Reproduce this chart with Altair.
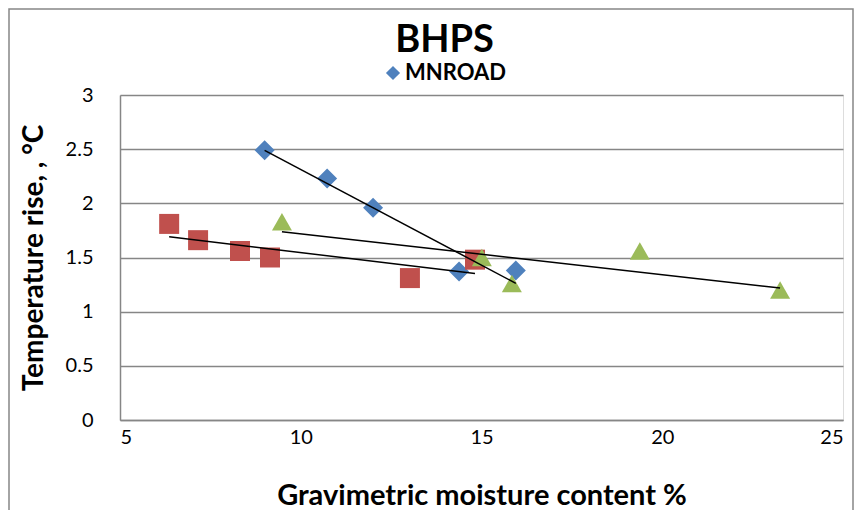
import altair as alt
import pandas as pd

# Data
mn_x = [9.0, 10.73, 12.0, 14.38, 15.95]
mn_y = [2.49, 2.23, 1.96, 1.37, 1.38]

s2_x = [6.36, 7.16, 8.32, 9.15, 13.02, 14.82]
s2_y = [1.81, 1.66, 1.56, 1.50, 1.31, 1.48]

s3_x = [9.48, 15.01, 15.84, 19.38, 23.26]
s3_y = [1.83, 1.50, 1.26, 1.56, 1.20]

series_names = ["MNROAD", "Series2", "Series3"]
colors = ["#4F81BD", "#C0504D", "#9BBB59"]
shapes = ["diamond", "square", "triangle-up"]

rows = []
for name, xs, ys in zip(series_names, [mn_x, s2_x, s3_x], [mn_y, s2_y, s3_y]):
    for x, y in zip(xs, ys):
        rows.append({"series": name, "moisture": x, "temp": y})
df = pd.DataFrame(rows)

FONT = "Lato"

xscale = alt.Scale(domain=[5, 25], nice=False, zero=False)
yscale = alt.Scale(domain=[0, 3], nice=False)

base = alt.Chart(df)

points = base.mark_point(filled=True, opacity=1, size=400).encode(
    x=alt.X("moisture:Q", scale=xscale,
            axis=alt.Axis(values=[5, 10, 15, 20, 25], grid=False, ticks=False,
                          domainColor="#868686", domainWidth=1.5,
                          labelFont=FONT, labelFontSize=20, labelColor="#000000",
                          labelPadding=7, title="Gravimetric moisture content %",
                          titleFont=FONT, titleFontSize=29, titleFontWeight="bold",
                          titleColor="#000000", titlePadding=34)),
    y=alt.Y("temp:Q", scale=yscale,
            axis=alt.Axis(values=[0, 0.5, 1, 1.5, 2, 2.5, 3],
                          labelExpr="'' + datum.value", grid=True,
                          gridColor="#868686", gridWidth=1.5, ticks=False,
                          domainColor="#868686", domainWidth=1.5,
                          labelFont=FONT, labelFontSize=20, labelColor="#000000",
                          labelPadding=27, title="Temperature rise, , °C",
                          titleFont=FONT, titleFontSize=28, titleFontWeight="bold",
                          titleColor="#000000", titlePadding=17)),
    color=alt.Color("series:N", scale=alt.Scale(domain=series_names, range=colors),
                    legend=alt.Legend(values=["MNROAD"], orient="none", legendX=262,
                                      legendY=-33, title=None, labelFont=FONT,
                                      labelFontSize=22, labelFontWeight="bold",
                                      labelColor="#000000", symbolSize=200,
                                      symbolOpacity=1, labelOffset=1)),
    shape=alt.Shape("series:N", scale=alt.Scale(domain=series_names, range=shapes),
                    legend=None),
)

trend = base.transform_regression(
    "moisture", "temp", groupby=["series"], method="linear"
).mark_line(color="#000000", strokeWidth=1.5).encode(
    x=alt.X("moisture:Q", scale=xscale),
    y=alt.Y("temp:Q", scale=yscale),
    detail="series:N",
)

border = alt.Chart(pd.DataFrame({"a": [0]})).mark_rect(
    fill=None, stroke="#868686", strokeWidth=1.5, clip=False
).encode(
    x=alt.value(-111), x2=alt.value(733), y=alt.value(-86), y2=alt.value(440)
)

title = alt.Chart(pd.DataFrame({"t": ["BHPS"]})).mark_text(
    font=FONT, fontSize=38, fontWeight="bold", color="#000000",
    align="center", baseline="alphabetic"
).encode(text="t:N", x=alt.value(324.5), y=alt.value(-43))

chart = alt.layer(border, points, trend, title).properties(
    width=723, height=325,
    autosize=alt.AutoSizeParams(type="none"),
    padding={"left": 112, "top": 87, "right": 11, "bottom": 90},
).configure_view(stroke=None).configure(background="#ffffff")

chart.save("out.html", embed_options={"renderer": "svg", "actions": False})
